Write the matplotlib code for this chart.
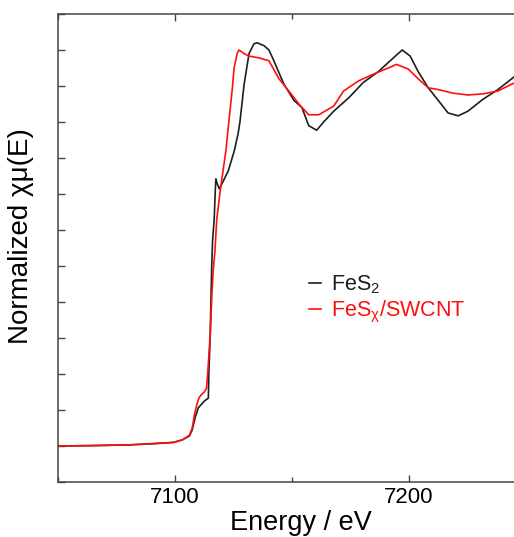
import matplotlib
matplotlib.use("Agg")
import matplotlib.pyplot as plt
from matplotlib.ticker import MultipleLocator, NullFormatter

plt.rcParams['font.family'] = ['Liberation Sans', 'DejaVu Sans']
plt.rcParams['mathtext.fontset'] = 'custom'
plt.rcParams['mathtext.rm'] = 'Liberation Sans'
plt.rcParams['mathtext.it'] = 'Liberation Sans'

# FeS2 reference spectrum
e_fes2 = [7050.0, 7065.0, 7080.0, 7090.0, 7099.4, 7103.2, 7106.2, 7107.4, 7108.7,
          7110.0, 7112.6, 7114.3, 7114.5, 7115.1, 7115.7, 7116.1, 7116.8, 7117.2,
          7117.5, 7118.0, 7119.0, 7121.0, 7122.8, 7125.4, 7127.0, 7127.8, 7129.6,
          7131.7, 7133.8, 7135.1, 7138.1, 7140.2, 7142.3, 7146.6, 7150.9, 7154.3,
          7157.2, 7160.6, 7163.6, 7167.9, 7174.3, 7180.6, 7187.0, 7193.4, 7197.2,
          7200.6, 7204.0, 7208.3, 7212.6, 7216.8, 7221.1, 7225.3, 7231.7, 7238.1,
          7244.0, 7250.0]
mu_fes2 = [0.000, 0.001, 0.003, 0.006, 0.010, 0.017, 0.028, 0.045, 0.080,
           0.106, 0.125, 0.133, 0.200, 0.310, 0.490, 0.570, 0.630, 0.700,
           0.742, 0.730, 0.714, 0.740, 0.764, 0.820, 0.867, 0.900, 1.005,
           1.090, 1.117, 1.120, 1.112, 1.100, 1.070, 1.005, 0.960, 0.940,
           0.890, 0.877, 0.900, 0.930, 0.967, 1.010, 1.040, 1.078, 1.100,
           1.083, 1.040, 0.995, 0.960, 0.925, 0.917, 0.930, 0.963, 0.990,
           1.020, 1.050]

# FeSx/SWCNT spectrum
e_swcnt = [7050.0, 7080.0, 7099.4, 7103.2, 7106.2, 7107.4, 7108.4, 7109.6, 7110.4,
           7111.5, 7112.6, 7113.5, 7114.0, 7115.1, 7115.8, 7116.4, 7117.1, 7117.9,
           7119.4, 7121.8, 7123.2, 7124.5, 7125.3, 7126.6, 7127.4, 7129.5, 7131.7,
           7136.0, 7140.2, 7144.5, 7148.7, 7153.0, 7157.2, 7161.5, 7167.9, 7172.1,
           7178.5, 7184.9, 7191.3, 7194.7, 7199.8, 7204.0, 7208.3, 7212.6, 7218.9,
           7225.3, 7231.7, 7238.1, 7244.0, 7250.0]
mu_swcnt = [0.000, 0.003, 0.010, 0.017, 0.030, 0.050, 0.089, 0.120, 0.135,
            0.144, 0.150, 0.160, 0.200, 0.310, 0.420, 0.490, 0.540, 0.630,
            0.710, 0.820, 0.910, 0.990, 1.050, 1.090, 1.100, 1.090, 1.083,
            1.078, 1.070, 1.020, 0.986, 0.950, 0.920, 0.920, 0.944, 0.986,
            1.014, 1.033, 1.050, 1.060, 1.047, 1.020, 0.995, 0.990, 0.980,
            0.975, 0.978, 0.986, 1.005, 1.020]

fig = plt.figure(figsize=(5.14, 5.37), dpi=100)
ax = fig.add_axes([0.1128, 0.1024, 0.910, 0.8716])

ax.plot(e_fes2, mu_fes2, color="#1e1e1e", lw=1.2, label="FeS$_2$")
ax.plot(e_swcnt, mu_swcnt, color="#ff0f0f", lw=1.2, label="FeS$_\\mathrm{χ}$/SWCNT")

ax.set_xlim(7050, 7250)
ax.set_ylim(-0.1, 1.2)
ax.xaxis.set_major_locator(MultipleLocator(100))
ax.xaxis.set_minor_locator(MultipleLocator(50))
ax.yaxis.set_major_locator(MultipleLocator(0.1))
ax.yaxis.set_major_formatter(NullFormatter())
ax.tick_params(which="both", direction="in", top=True, right=True, color="#444444",
               labelsize=16, width=1)
ax.tick_params(which="major", length=5)
ax.tick_params(which="minor", length=3.5)
for s in ax.spines.values():
    s.set_color("#444444")
    s.set_linewidth(1.1)

ax.set_xlabel("Energy / eV", fontsize=19.5)
ax.set_ylabel("Normalized χμ(E)", fontsize=20)
ax.xaxis.set_label_coords(0.52, -0.06)
ax.yaxis.set_label_coords(-0.052, 0.525)

leg = ax.legend(loc="upper left", bbox_to_anchor=(0.495, 0.487), frameon=False,
                fontsize=15.5, handlelength=0.55, handletextpad=0.5,
                labelspacing=0.12, labelcolor="linecolor")

fig.savefig("out.png", dpi=100)
plt.close(fig)
